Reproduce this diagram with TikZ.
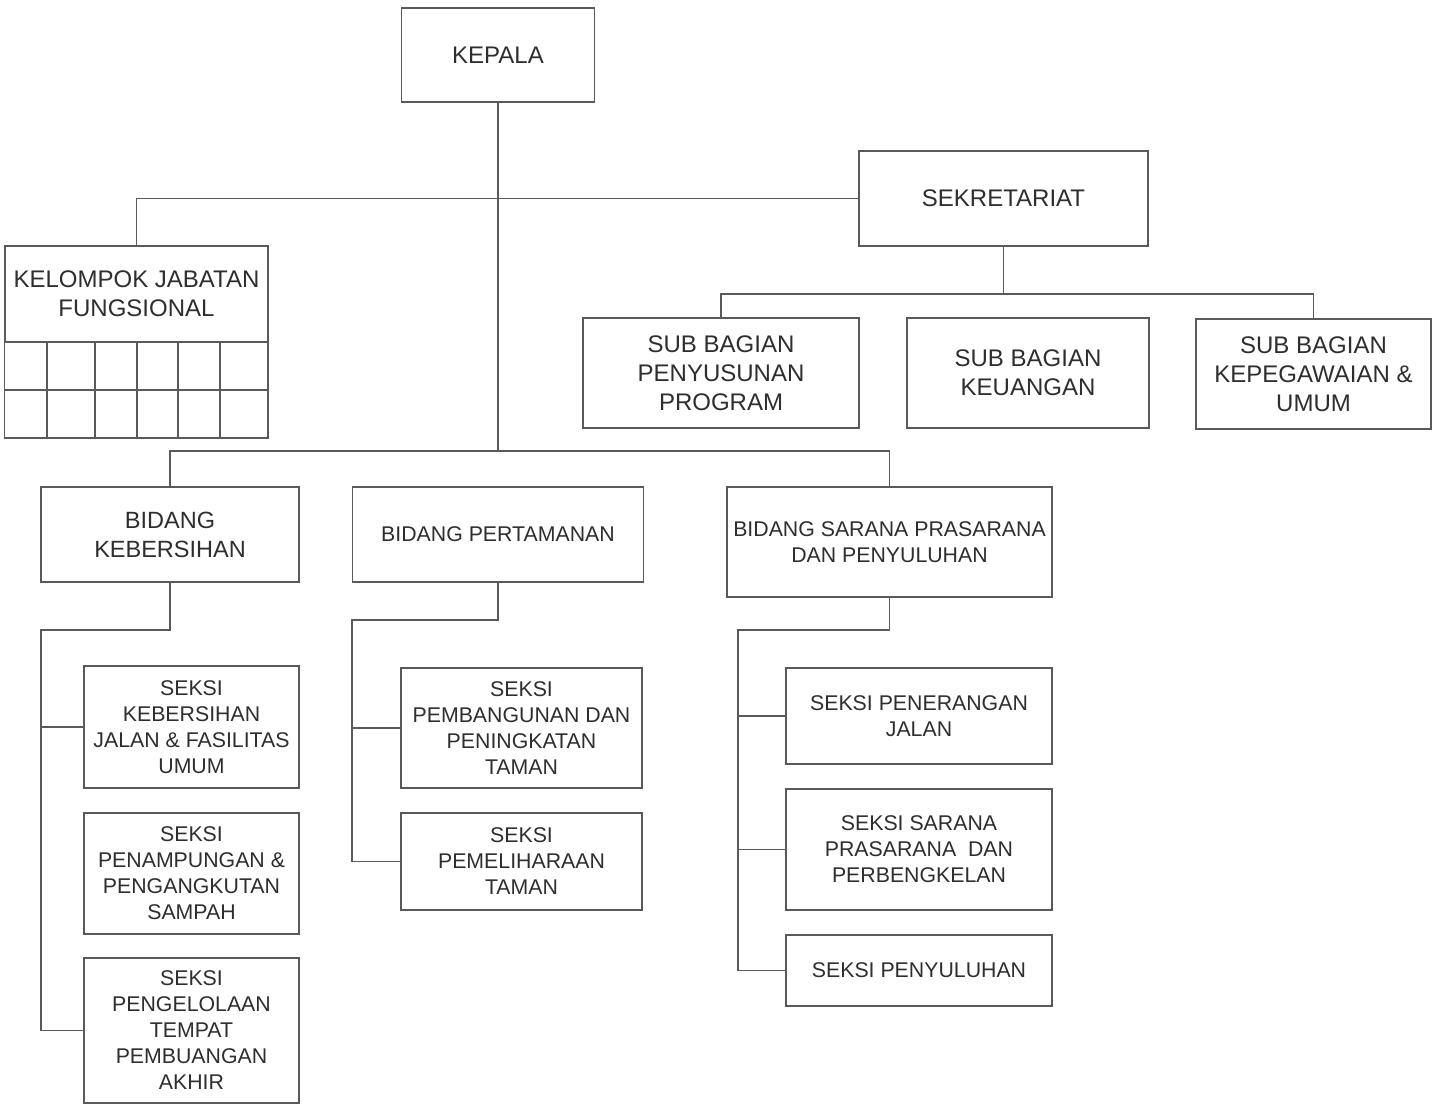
\documentclass[tikz,border=0pt]{standalone}
\usepackage{fontspec}
\setmainfont{Liberation Sans}
\definecolor{ln}{HTML}{5A5A5A}
\definecolor{tx}{HTML}{2E2E2E}
\begin{document}
\begin{tikzpicture}[x=1pt,y=-1pt,
  box/.style={draw=ln,line width=1.4pt,rectangle,inner sep=0pt,align=center,text=tx},
  big/.style={box,font=\fontsize{24}{29}\selectfont},
  small/.style={box,font=\fontsize{21.3}{26}\selectfont},
  grd/.style={draw=ln,line width=1.4pt},
  conn/.style={draw=ln,line width=1.3pt}]
\useasboundingbox[fill=white] (0,0) rectangle (1441,1104);
% top level
\node[big,minimum width=193pt,minimum height=94pt] (kepala) at (498,55) {KEPALA};
\node[big,minimum width=289pt,minimum height=95pt] (sek) at (1003.5,198.5) {SEKRETARIAT};
% kelompok jabatan fungsional
\node[big,minimum width=263pt,minimum height=96pt] (kel) at (136.5,294) {KELOMPOK JABATAN\\FUNGSIONAL};
\draw[grd] (kel.south west) rectangle (268,438);
\draw[grd] (5,390) -- (268,390);
\foreach \xx in {47,95,137,178,220} \draw[grd] (\xx,342) -- (\xx,438);
% sub bagian
\node[big,minimum width=276pt,minimum height=110pt] (sb1) at (721,373) {SUB BAGIAN\\PENYUSUNAN\\PROGRAM};
\node[big,minimum width=242pt,minimum height=110pt] (sb2) at (1028,373) {SUB BAGIAN\\KEUANGAN};
\node[big,minimum width=235pt,minimum height=110pt] (sb3) at (1313.5,374) {SUB BAGIAN\\KEPEGAWAIAN \&\\UMUM};
% bidang
\node[small,minimum width=258pt,minimum height=95pt,font=\fontsize{23.5}{29}\selectfont] (bk) at (170,534.5) {BIDANG\\KEBERSIHAN};
\node[small,minimum width=291pt,minimum height=95pt] (bp) at (498,534.5) {BIDANG PERTAMANAN};
\node[small,minimum width=325pt,minimum height=110pt] (bs) at (889.5,542) {BIDANG SARANA PRASARANA\\DAN PENYULUHAN};
% seksi kebersihan
\node[small,minimum width=215pt,minimum height=122pt] (s1) at (191.5,727) {SEKSI\\KEBERSIHAN\\JALAN \& FASILITAS\\UMUM};
\node[small,minimum width=215pt,minimum height=121pt] (s2) at (191.5,873.5) {SEKSI\\PENAMPUNGAN \&\\PENGANGKUTAN\\SAMPAH};
\node[small,minimum width=215pt,minimum height=145pt] (s3) at (191.5,1030.5) {SEKSI\\PENGELOLAAN\\TEMPAT\\PEMBUANGAN\\AKHIR};
% seksi pertamanan
\node[small,minimum width=241pt,minimum height=120pt] (p1) at (521.5,728) {SEKSI\\PEMBANGUNAN DAN\\PENINGKATAN\\TAMAN};
\node[small,minimum width=241pt,minimum height=97pt] (p2) at (521.5,861.5) {SEKSI\\PEMELIHARAAN\\TAMAN};
% seksi sarana
\node[small,minimum width=266pt,minimum height=96pt] (r1) at (919,716) {SEKSI PENERANGAN\\JALAN};
\node[small,minimum width=266pt,minimum height=121pt] (r2) at (919,849.5) {SEKSI SARANA\\PRASARANA\ \ DAN\\PERBENGKELAN};
\node[small,minimum width=266pt,minimum height=71pt] (r3) at (919,970.5) {SEKSI PENYULUHAN};
% junctions
\coordinate (j1) at (498,451);
\coordinate (j2) at (1003.5,294);
\coordinate (k1) at (41,630);
\coordinate (q1) at (352,620);
\coordinate (m1) at (738,630);
% connectors
\draw[conn] (kepala.south) -- (j1);
\draw[conn] (kel.north) |- (sek.west);
\draw[conn] (sek.south) -- (j2);
\draw[conn] (sb1.north) |- (j2) -| (sb3.north);
\draw[conn] (bk.north) |- (j1) -| (bs.north);
\draw[conn] (bk.south) |- (k1) -- (k1 |- s3.west) -- (s3.west);
\draw[conn] (k1 |- s1.west) -- (s1.west);
\draw[conn] (bp.south) |- (q1) -- (q1 |- p2.west) -- (p2.west);
\draw[conn] (q1 |- p1.west) -- (p1.west);
\draw[conn] (bs.south) |- (m1) -- (m1 |- r3.west) -- (r3.west);
\draw[conn] (m1 |- r1.west) -- (r1.west);
\draw[conn] (m1 |- r2.west) -- (r2.west);
\end{tikzpicture}
\end{document}
